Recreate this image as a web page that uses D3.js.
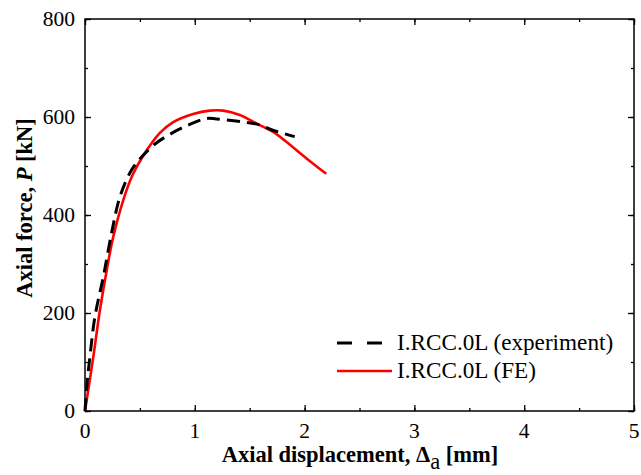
<!DOCTYPE html>
<html>
<head>
<meta charset="utf-8">
<script src="https://cdn.jsdelivr.net/npm/d3@7"></script>
<style>
  body { margin: 0; background: #fff; }
  svg text { font-family: "Liberation Serif", "Times New Roman", serif; }
</style>
</head>
<body>
<svg id="chart" width="641" height="475"></svg>
<script>
// experiment curve (dashed, black)
const exp_x = [0, 0.02, 0.045, 0.09, 0.167, 0.242, 0.318, 0.424, 0.53, 0.65, 0.80, 0.955, 1.106, 1.197, 1.44, 1.59, 1.71, 1.91]
const exp_y = [0, 60, 111, 192, 274, 363, 437, 492, 522, 547, 568, 585, 597, 596, 590, 584, 573, 560]

// FE curve (solid, red)
const fe_x = [0, 0.076, 0.136, 0.2, 0.258, 0.348, 0.43, 0.53, 0.68, 0.80, 0.985, 1.136, 1.26, 1.41, 1.56, 1.71, 1.83, 2.015, 2.197]
const fe_y = [0, 111, 206, 290, 356, 430, 480, 521, 567, 589, 606, 613, 613, 604, 587, 570, 550, 516, 484]

const x_ticks = [0, 1, 2, 3, 4, 5]
const y_ticks = [0, 200, 400, 600, 800]
const legend_labels = ['I.RCC.0L (experiment)', 'I.RCC.0L (FE)']

let margin = { left: 85, right: 634, top: 19, bottom: 411 }
let svg = d3.select('#chart')

let x = d3.scaleLinear().domain([0, 5]).range([margin.left, margin.right])
let y = d3.scaleLinear().domain([0, 800]).range([margin.bottom, margin.top])

// Minor ticks (inward, all four sides)
let x_minor = d3.range(0, 5.01, 0.5)
let y_minor = d3.range(0, 801, 100)

let g_axes = svg.append('g')

function add_axis(axis, tx, ty) {
  g_axes.append('g')
    .attr('transform', `translate(${tx},${ty})`)
    .call(axis)
    .call(g => g.select('.domain').remove())
    .call(g => g.selectAll('line').attr('stroke', '#000').attr('stroke-width', 1.3))
}

// major ticks
add_axis(d3.axisBottom(x).tickValues(x_ticks).tickSize(-6).tickFormat(''), 0, margin.bottom)
add_axis(d3.axisTop(x).tickValues(x_ticks).tickSize(-6).tickFormat(''), 0, margin.top)
add_axis(d3.axisLeft(y).tickValues(y_ticks).tickSize(-6).tickFormat(''), margin.left, 0)
add_axis(d3.axisRight(y).tickValues(y_ticks).tickSize(-6).tickFormat(''), margin.right, 0)
// minor ticks
add_axis(d3.axisBottom(x).tickValues(x_minor).tickSize(-3).tickFormat(''), 0, margin.bottom)
add_axis(d3.axisTop(x).tickValues(x_minor).tickSize(-3).tickFormat(''), 0, margin.top)
add_axis(d3.axisLeft(y).tickValues(y_minor).tickSize(-3).tickFormat(''), margin.left, 0)
add_axis(d3.axisRight(y).tickValues(y_minor).tickSize(-3).tickFormat(''), margin.right, 0)

// Frame
svg.append('rect')
  .attr('x', margin.left)
  .attr('y', margin.top)
  .attr('width', margin.right - margin.left)
  .attr('height', margin.bottom - margin.top)
  .style('fill', 'none')
  .style('stroke', '#000')
  .style('stroke-width', 1.5)

// Tick labels
svg.append('g').selectAll('text')
  .data(x_ticks)
  .join('text')
  .attr('x', d => x(d))
  .attr('y', 438)
  .attr('text-anchor', 'middle')
  .style('font-size', '21.5px')
  .text(d => d)

svg.append('g').selectAll('text')
  .data(y_ticks)
  .join('text')
  .attr('x', 75)
  .attr('y', d => y(d) + 6.5)
  .attr('text-anchor', 'end')
  .style('font-size', '21.5px')
  .text(d => d)

// Axis titles
let x_title = svg.append('text')
  .attr('x', 360)
  .attr('y', 462)
  .attr('text-anchor', 'middle')
  .style('font-size', '22.5px')
  .style('font-weight', 'bold')
x_title.append('tspan').text('Axial displacement, \u0394')
x_title.append('tspan').attr('dy', 7).style('font-weight', 'normal').text('a')
x_title.append('tspan').attr('dy', -7).text(' [mm]')

let y_title = svg.append('text')
  .attr('transform', 'translate(32,208) rotate(-90)')
  .attr('text-anchor', 'middle')
  .style('font-size', '22.5px')
  .style('font-weight', 'bold')
y_title.append('tspan').text('Axial force, ')
y_title.append('tspan').style('font-style', 'italic').text('P')
y_title.append('tspan').text(' [kN]')

// Curves
let line = d3.line().x(d => x(d[0])).y(d => y(d[1])).curve(d3.curveCatmullRom.alpha(0.5))

svg.append('path')
  .datum(d3.zip(fe_x, fe_y))
  .attr('d', line)
  .style('fill', 'none')
  .style('stroke', '#ff0000')
  .style('stroke-width', 2.6)

svg.append('path')
  .datum(d3.zip(exp_x, exp_y))
  .attr('d', line)
  .style('fill', 'none')
  .style('stroke', '#000')
  .style('stroke-width', 3)
  .style('stroke-dasharray', '13,7')

// Legend
let legend_g = svg.append('g')
legend_g.append('line')
  .attr('x1', 337).attr('x2', 392).attr('y1', 343).attr('y2', 343)
  .style('stroke', '#000').style('stroke-width', 3)
  .style('stroke-dasharray', '15,15')
legend_g.append('line')
  .attr('x1', 337).attr('x2', 392).attr('y1', 371).attr('y2', 371)
  .style('stroke', '#ff0000').style('stroke-width', 2.6)
legend_g.selectAll('text')
  .data(legend_labels)
  .join('text')
  .attr('x', 397)
  .attr('y', (d, i) => 350 + i * 28)
  .style('font-size', '23.2px')
  .text(d => d)
</script>
</body>
</html>
